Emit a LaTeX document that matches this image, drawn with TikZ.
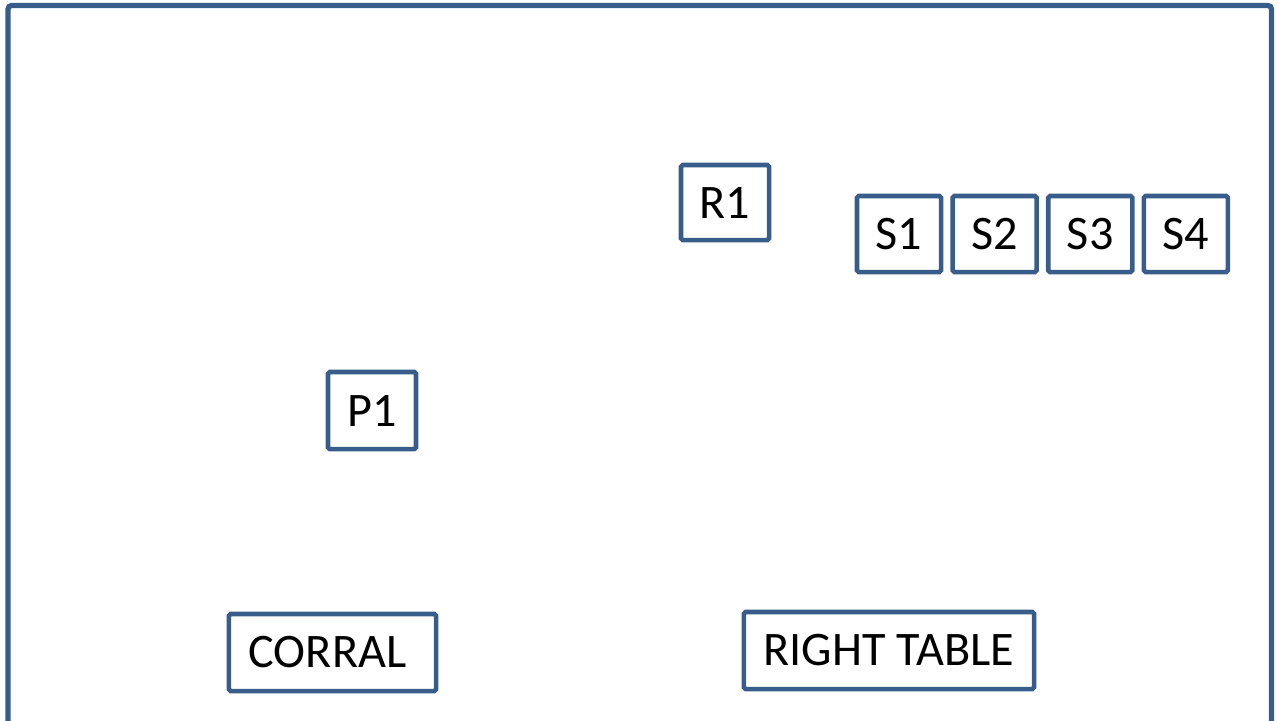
\documentclass[tikz,border=0pt]{standalone}
\usepackage{fontspec}
\setmainfont{Carlito}
\usetikzlibrary{positioning}

\definecolor{framecol}{RGB}{56,93,138}

\begin{document}
\begin{tikzpicture}[x=0.01cm,y=-0.01cm,
  spot/.style={draw=framecol,line width=1.3pt,rounded corners=0.5pt,
    minimum width=0.84cm,minimum height=0.76cm,inner sep=0pt,
    font=\fontsize{13.7}{16}\selectfont},
  table/.style={spot,minimum height=0.77cm}]
\clip (0,0) rectangle (1279,720);
\useasboundingbox (0,0) rectangle (1279,720);
\draw [framecol,line width=1.5pt,rounded corners=1pt] (8,730) -- (8,5.5) -- (1271.5,5.5) -- (1271.5,730);
\node [spot,minimum width=0.88cm,minimum height=0.75cm] (r1) at (725,202.5) {R1};
\node [spot] (s1) at (899,234) {S1};
\node [spot,right=0.07cm of s1] (s2) {S2};
\node [spot,right=0.07cm of s2] (s3) {S3};
\node [spot,right=0.07cm of s3] (s4) {S4};
\node [spot,minimum width=0.88cm,minimum height=0.77cm] (p1) at (372,410.5) {P1};
\node [table,minimum width=2.07cm] (corral) at (332.5,652.5) {\hspace*{-0.1cm}CORRAL};
\node [table,minimum width=2.9cm] (righttable) at (889,650.5) {RIGHT TABLE};
\end{tikzpicture}
\end{document}
